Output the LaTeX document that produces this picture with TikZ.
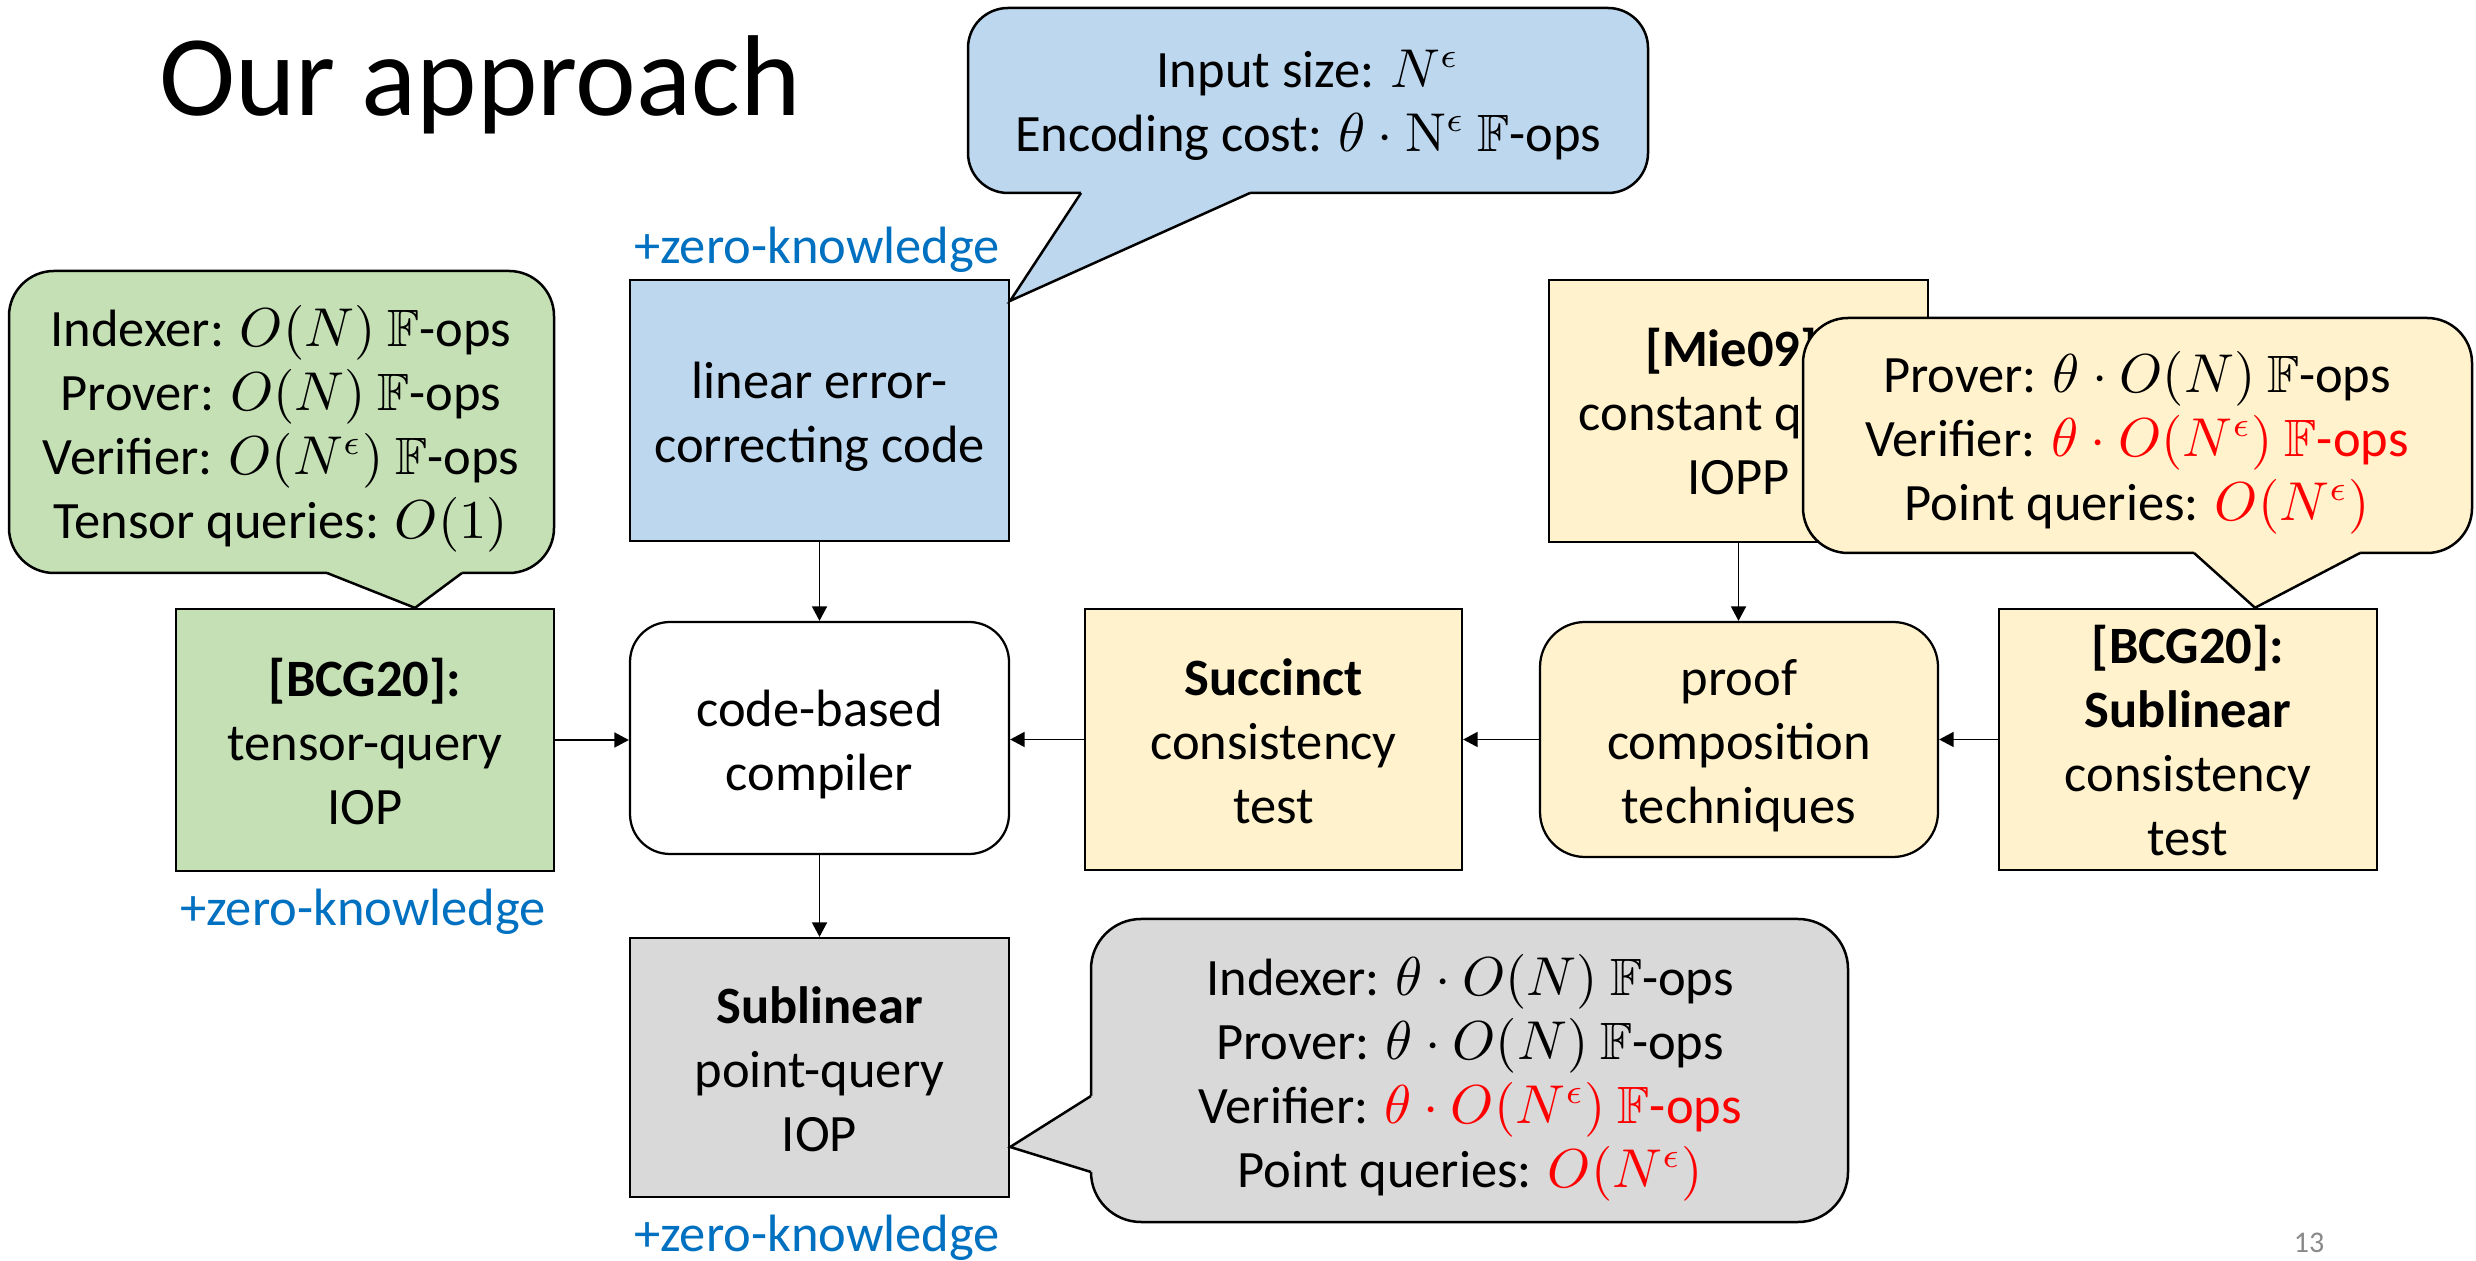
\documentclass[tikz,border=0pt]{standalone}
\usepackage{amssymb}
\usepackage[no-math]{fontspec}
\setmainfont{Carlito}
\usetikzlibrary{arrows.meta,calc}
\definecolor{greenfill}{HTML}{C5E0B4}
\definecolor{bluefill}{HTML}{BDD7EE}
\definecolor{yellowfill}{HTML}{FFF2CC}
\definecolor{grayfill}{HTML}{D9D9D9}
\definecolor{zkblue}{HTML}{0070C0}
\definecolor{pagegray}{HTML}{898989}
\newcommand\bfnt{\fontsize{10.5}{12.8}\selectfont}
\newcommand\Fops{$\mathbb{F}$-ops}
\newcommand\hl[1]{\textcolor{red}{#1}}
% struts that fix the first line's height and the last line's depth
\newcommand\topstrut[1][12pt]{\rule{0pt}{#1}}
\newcommand\botstrut[1][3.84pt]{\rule[-#1]{0pt}{0pt}}

\begin{document}
\begin{tikzpicture}[x=0.2pt,y=-0.2pt,
  every node/.style={inner sep=0pt, align=center, font=\bfnt},
  boxstyle/.style n args={3}{draw=black, line width=0.45pt, fill=#1,
    minimum width=#2*0.2pt, minimum height=#3*0.2pt},
  arr/.style={-{Triangle[length=2.9pt,width=3pt]}, line width=0.35pt},
  bubble/.style={fill=#1, draw=black, line width=0.5pt},
  tail/.style={line width=0.5pt, line join=miter},
  zk/.style={text=zkblue}]

\fill[white] (0,0) rectangle (2476,1261);
\useasboundingbox (0,0) rectangle (2476,1261);

% title
\node[anchor=base west, font=\fontsize{23}{28}\selectfont] (title) at (158,116) {Our approach};

% middle column
\node[boxstyle={bluefill}{379}{261}] (ecc) at (819.5,410.5) {\topstrut linear error-\\correcting code\botstrut};
\node[zk] (zkecc) at (817,250) {+zero-knowledge};
\node[boxstyle={white}{379}{232}, rounded corners=8pt] (comp) at (819.5,738) {\topstrut code-based\\compiler\botstrut};
\node[boxstyle={grayfill}{379}{259}] (sp) at (819.5,1067.5) {\topstrut\textbf{Sublinear}\\point-query\\IOP\botstrut};
\node[zk] (zksp) at (817,1238) {+zero-knowledge};

% left column
\node[boxstyle={greenfill}{378}{262}] (tq) at (365,740) {\topstrut\textbf{[BCG20]:}\\tensor-query\\IOP\botstrut};
\node[zk] (zktq) at (363,912) {+zero-knowledge};

% right part
\node[boxstyle={yellowfill}{377}{261}] (succ) at (1273.5,739.5) {\topstrut\textbf{Succinct}\\consistency\\test\botstrut};
\node[boxstyle={yellowfill}{398}{235}, rounded corners=9pt] (proof) at (1739,739.5) {\topstrut proof\\composition\\techniques\botstrut};
\node[boxstyle={yellowfill}{379}{262}] (mie) at (1738.5,411) {\topstrut[11.5pt]\textbf{[Mie09]:}\\constant query\\IOPP\botstrut};
\node[boxstyle={yellowfill}{378}{261}] (bcgs) at (2188,739.5) {\topstrut[11pt]\textbf{[BCG20]:}\\\textbf{Sublinear}\\consistency\\test\botstrut[2.84pt]};

% connectors
\draw[arr] (ecc) -- (comp);
\draw[arr] (comp) -- (sp);
\draw[arr] (tq.east) -- (tq.east -| comp.west);
\draw[arr] (succ.west) -- (succ.west -| comp.east);
\draw[arr] (proof.west) -- (proof.west -| succ.east);
\draw[arr] (bcgs.west) -- (bcgs.west -| proof.east);
\draw[arr] (mie.south) -- (mie.south |- proof.north);

% callout tips
\coordinate (gtip) at ($(tq.north)+(50,0)$);
\coordinate (btip) at ($(ecc.north east)+(0,22)$);
\coordinate (ytip) at ($(bcgs.north)+(67,0)$);
\coordinate (stip) at ($(sp.east)+(0,79.5)$);

% green callout
\draw[bubble=greenfill, rounded corners=9pt] (9,271) rectangle (554,573);
\fill[greenfill] (327,566) -- (327,573) -- (gtip) -- (462,573) -- (462,566) -- cycle;
\draw[tail] (327,573) -- (gtip) -- (462,573);
\node (gtext) at (281,429) {Indexer: $O(N)$ \Fops\\Prover: $O(N)$ \Fops\\Verifier: $O(N^{\epsilon})$ \Fops\\Tensor queries: $O(1)$};

% blue callout
\draw[bubble=bluefill, rounded corners=8pt] (968,8) rectangle (1648,193);
\fill[bluefill] (1081,186) -- (1081,193) -- (btip) -- (1250,193) -- (1250,186) -- cycle;
\draw[tail] (1081,193) -- (btip) -- (1250,193);
\node (btext) at (1308,105) {Input size: $N^{\epsilon}$\\Encoding cost: $\theta\cdot\mathrm{N}^{\epsilon}$ \Fops};

% yellow callout
\draw[bubble=yellowfill, rounded corners=9pt] (1803,318) rectangle (2472,553);
\fill[yellowfill] (2194,546) -- (2194,553) -- (ytip) -- (2360,553) -- (2360,546) -- cycle;
\draw[tail] (2194,553) -- (ytip) -- (2360,553);
\node (ytext) at (2137,443) {Prover: $\theta\cdot O(N)$ \Fops\\Verifier: \hl{$\theta\cdot O(N^{\epsilon})$ \Fops}\\Point queries: \hl{$O(N^{\epsilon})$}};

% gray callout
\draw[bubble=grayfill, rounded corners=10pt] (1091,919) rectangle (1848,1222);
\fill[grayfill] (1098,1096) -- (1091,1096) -- (stip) -- (1091,1172) -- (1098,1172) -- cycle;
\draw[tail] (1091,1096) -- (stip) -- (1091,1172);
\node (stext) at (1470,1078) {Indexer: $\theta\cdot O(N)$ \Fops\\Prover: $\theta\cdot O(N)$ \Fops\\Verifier: \hl{$\theta\cdot O(N^{\epsilon})$ \Fops}\\Point queries: \hl{$O(N^{\epsilon})$}};

% slide number
\node[font=\fontsize{6}{7}\selectfont, text=pagegray] (pg) at (2309,1243) {13};
\end{tikzpicture}
\end{document}
